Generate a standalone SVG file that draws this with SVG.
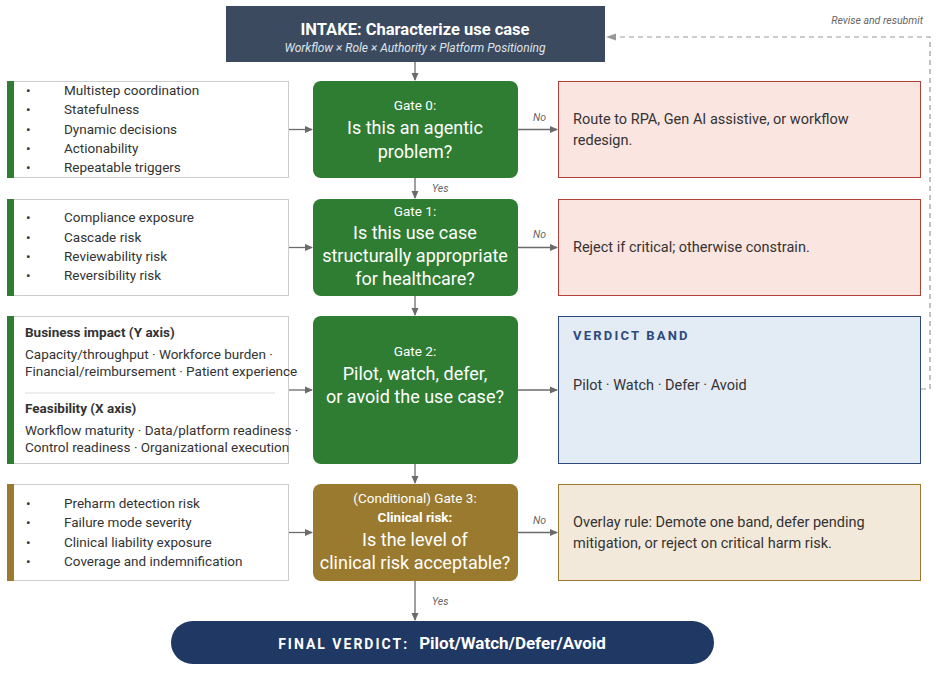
<svg xmlns="http://www.w3.org/2000/svg" width="939" height="676" viewBox="0 0 939 676">
<style>
text{font-family:Roboto,"Liberation Sans",sans-serif}
.lb{fill:#fff;stroke:#ccc;stroke-width:1}
.it{font-size:13.5px;fill:#333}
.gt{font-size:13.5px;fill:#fff;text-anchor:middle}
.gq{font-size:18px;fill:#fff;text-anchor:middle}
.rt{font-size:14.5px;fill:#333}
.lab{font-size:10.5px;font-style:italic;fill:#666}
.con{stroke:#6b6b6b;stroke-width:1.3;fill:none;marker-end:url(#ar)}
</style>
<defs>
<marker id="ar" markerWidth="8" markerHeight="8" refX="7" refY="4" orient="auto" markerUnits="userSpaceOnUse"><path d="M0,0.5 L8,4 L0,7.5z" fill="#6b6b6b"/></marker>
<marker id="ar2" markerWidth="10" markerHeight="8" refX="9" refY="4" orient="auto" markerUnits="userSpaceOnUse"><path d="M0,0.5 L10,4 L0,7.5z" fill="#999"/></marker>
</defs>
<rect width="939" height="676" fill="#fff"/>
<g id="intake"><rect x="226" y="6" width="379" height="56" fill="#3b4a5e"/>
<text x="415" y="35" font-size="16.5" font-weight="bold" fill="#fff" text-anchor="middle">INTAKE: Characterize use case</text>
<text x="415" y="52" font-size="12" font-style="italic" fill="#dfe4ea" text-anchor="middle">Workflow × Role × Authority × Platform Positioning</text></g>

<g id="crit0"><rect class="lb" x="7.5" y="81.5" width="281" height="96"/><rect x="7" y="81" width="7" height="97" fill="#2e7d32"/>
<g class="it"><text x="26" y="95">•</text><text x="64" y="95">Multistep coordination</text>
<text x="26" y="114">•</text><text x="64" y="114">Statefulness</text>
<text x="26" y="134">•</text><text x="64" y="134">Dynamic decisions</text>
<text x="26" y="153">•</text><text x="64" y="153">Actionability</text>
<text x="26" y="172">•</text><text x="64" y="172">Repeatable triggers</text></g></g>

<g id="crit1"><rect class="lb" x="7.5" y="199.5" width="281" height="96"/><rect x="7" y="199" width="7" height="97" fill="#2e7d32"/>
<g class="it"><text x="26" y="222">•</text><text x="64" y="222">Compliance exposure</text>
<text x="26" y="242">•</text><text x="64" y="242">Cascade risk</text>
<text x="26" y="261">•</text><text x="64" y="261">Reviewability risk</text>
<text x="26" y="280">•</text><text x="64" y="280">Reversibility risk</text></g></g>

<g id="crit2"><rect class="lb" x="7.5" y="316.5" width="281" height="147"/><rect x="7" y="316" width="7" height="148" fill="#2e7d32"/>
<text x="25" y="337" font-size="13.5" font-weight="bold" fill="#333">Business impact (Y axis)</text>
<text x="25" y="359" class="it" font-size="12.5">Capacity/throughput · Workforce burden ·</text>
<text x="25" y="376" class="it" font-size="12.5">Financial/reimbursement · Patient experience</text>
<line x1="25" y1="393" x2="275" y2="393" stroke="#ddd"/>
<text x="25" y="413" font-size="13.5" font-weight="bold" fill="#333">Feasibility (X axis)</text>
<text x="25" y="435" class="it" font-size="12.5">Workflow maturity · Data/platform readiness ·</text>
<text x="25" y="452" class="it" font-size="12.5">Control readiness · Organizational execution</text></g>

<g id="crit3"><rect class="lb" x="7.5" y="484.5" width="281" height="96"/><rect x="7" y="484" width="7" height="97" fill="#9a7a2e"/>
<g class="it"><text x="26" y="508">•</text><text x="64" y="508">Preharm detection risk</text>
<text x="26" y="527">•</text><text x="64" y="527">Failure mode severity</text>
<text x="26" y="547">•</text><text x="64" y="547">Clinical liability exposure</text>
<text x="26" y="566">•</text><text x="64" y="566">Coverage and indemnification</text></g></g>

<g id="gate0"><rect x="313" y="81" width="205" height="97" rx="8" fill="#2e7d32"/>
<text class="gt" x="415" y="110">Gate 0:</text><text class="gq" x="415" y="134">Is this an agentic</text><text class="gq" x="415" y="158">problem?</text></g>
<g id="gate1"><rect x="313" y="199" width="205" height="97" rx="8" fill="#2e7d32"/>
<text class="gt" x="415" y="216">Gate 1:</text><text class="gq" x="415" y="239">Is this use case</text><text class="gq" x="415" y="262">structurally appropriate</text><text class="gq" x="415" y="285">for healthcare?</text></g>
<g id="gate2"><rect x="313" y="316" width="205" height="148" rx="8" fill="#2e7d32"/>
<text class="gt" x="415" y="356">Gate 2:</text><text class="gq" x="415" y="380">Pilot, watch, defer,</text><text class="gq" x="415" y="403">or avoid the use case?</text></g>
<g id="gate3"><rect x="313" y="484" width="205" height="97" rx="8" fill="#9a7a2e"/>
<text class="gt" x="415" y="503" fill="#f1e6c8">(Conditional) Gate 3:</text>
<text class="gt" x="415" y="522" font-weight="bold" font-size="12.5">Clinical risk:</text>
<text class="gq" x="415" y="546">Is the level of</text><text class="gq" x="415" y="569">clinical risk acceptable?</text></g>

<g id="out0"><rect x="558.5" y="81.5" width="362" height="96" fill="#fbe5e0" stroke="#b0413a"/>
<text class="rt" x="573" y="124">Route to RPA, Gen AI assistive, or workflow</text><text class="rt" x="573" y="145">redesign.</text></g>
<g id="out1"><rect x="558.5" y="199.5" width="362" height="96" fill="#fbe5e0" stroke="#b0413a"/>
<text class="rt" x="573" y="252">Reject if critical; otherwise constrain.</text></g>
<g id="verdict"><rect x="558.5" y="316.5" width="362" height="147" fill="#e3ebf5" stroke="#2c4a7c"/>
<text x="573" y="340" font-size="13" font-weight="bold" letter-spacing="2.2" fill="#2c4a7c">VERDICT BAND</text>
<text class="rt" x="573" y="390">Pilot  ·  Watch  ·  Defer  ·  Avoid</text></g>
<g id="out3"><rect x="558.5" y="484.5" width="362" height="96" fill="#f3e9da" stroke="#9a7a2e"/>
<text class="rt" x="573" y="527">Overlay rule: Demote one band, defer pending</text><text class="rt" x="573" y="548">mitigation, or reject on critical harm risk.</text></g>

<g id="final"><rect x="171" y="621" width="543" height="43" rx="21.5" fill="#1f3864"/>
<text x="442" y="649" text-anchor="middle" fill="#fff"><tspan font-size="14" font-weight="bold" letter-spacing="2">FINAL VERDICT:</tspan><tspan font-size="17" font-weight="bold" dx="10">Pilot/Watch/Defer/Avoid</tspan></text></g>

<g id="connectors">
<path class="con" d="M415,62 V80"/>
<path class="con" d="M415,178 V198"/>
<path class="con" d="M415,296 V315"/>
<path class="con" d="M415,464 V483"/>
<path class="con" d="M415,581 V620"/>
<path class="con" d="M289,129.5 H312"/>
<path class="con" d="M289,247.5 H312"/>
<path class="con" d="M289,390 H312"/>
<path class="con" d="M289,532.5 H312"/>
<path class="con" d="M518,129.5 H557"/>
<path class="con" d="M518,247.5 H557"/>
<path class="con" d="M518,390 H557"/>
<path class="con" d="M518,532.5 H557"/>
<path d="M921,389 H930 V37 H607" fill="none" stroke="#999" stroke-width="1.2" stroke-dasharray="5,4" marker-end="url(#ar2)"/>
<text class="lab" x="533" y="121">No</text>
<text class="lab" x="533" y="238">No</text>
<text class="lab" x="533" y="524">No</text>
<text class="lab" x="432" y="192">Yes</text>
<text class="lab" x="432" y="605">Yes</text>
<text class="lab" x="923" y="24" text-anchor="end" font-size="12">Revise and resubmit</text>
</g>
</svg>
